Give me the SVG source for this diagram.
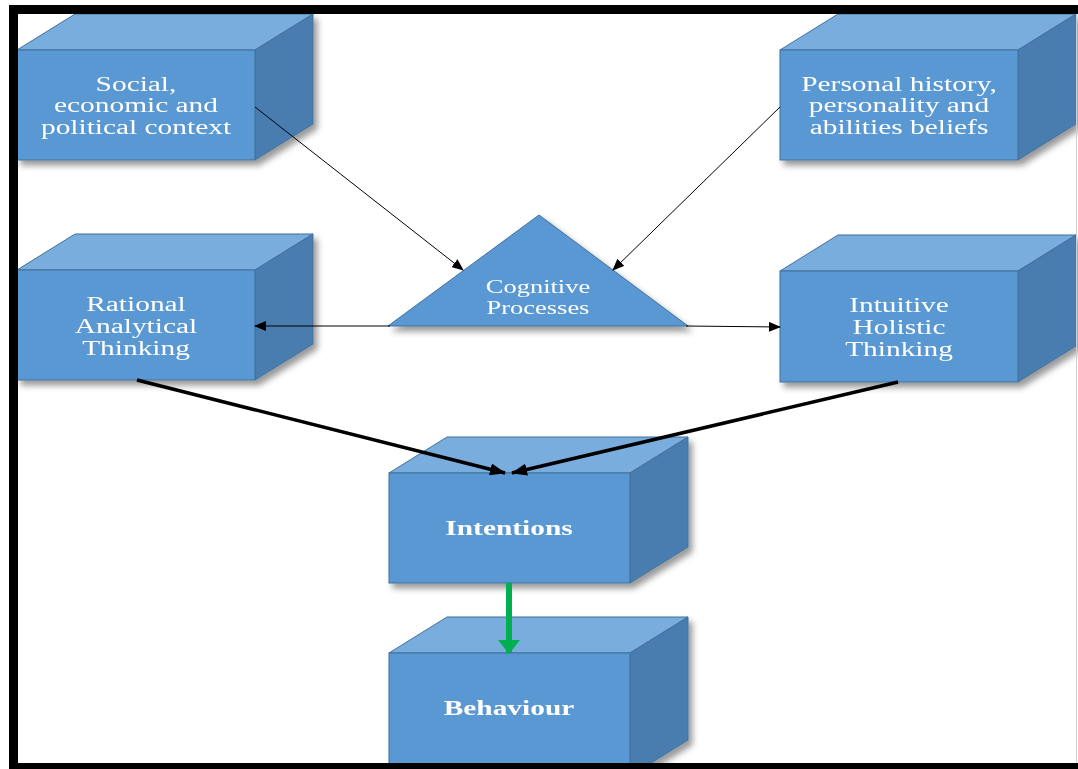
<svg xmlns="http://www.w3.org/2000/svg" width="1078" height="769" viewBox="0 0 1078 769">
  <style>
    .front { fill: #5a98d3; stroke: #41719c; stroke-width: 1; }
    .top { fill: #79addd; stroke: #41719c; stroke-width: 1; }
    .side { fill: #487db0; stroke: #41719c; stroke-width: 1; }
    .tri { fill: #5a98d3; stroke: #41719c; stroke-width: 1; }
    .lbl { font-family: "Liberation Serif", "Times New Roman", serif; font-size: 20px; fill: #ffffff; text-anchor: middle; }
    .lbl-sm { font-size: 18px; }
    .lbl-b { font-weight: bold; }
    .thin { stroke: #000; stroke-width: 1; fill: none; }
    .thick { stroke: #000; stroke-width: 3.5; fill: none; }
    .green { stroke: #00b050; stroke-width: 6; fill: none; }
  </style>
  <defs>
    <filter id="shadow" x="-10%" y="-10%" width="130%" height="140%">
      <feDropShadow dx="4" dy="5" stdDeviation="3" flood-color="#000" flood-opacity="0.4"/>
    </filter>
    <marker id="ah-thin" markerUnits="userSpaceOnUse" markerWidth="12" markerHeight="10" refX="11" refY="5" orient="auto">
      <path d="M0,0 L12,5 L0,10 Z" fill="#000"/>
    </marker>
    <marker id="ah-thick" markerUnits="userSpaceOnUse" markerWidth="16" markerHeight="12" refX="15" refY="6" orient="auto">
      <path d="M0,0 L16,6 L0,12 Z" fill="#000"/>
    </marker>
    <marker id="ah-green" markerUnits="userSpaceOnUse" markerWidth="14" markerHeight="22" refX="13" refY="11" orient="auto">
      <path d="M0,0 L14,11 L0,22 Z" fill="#00b050"/>
    </marker>
  </defs>

  <rect x="0" y="0" width="1078" height="769" fill="#ffffff"/>

  <!-- Social, economic and political context -->
  <g id="node-social" filter="url(#shadow)">
    <polygon class="top" points="17,50 75,14 313,14 255,50"/>
    <polygon class="side" points="255,50 313,14 313,124 255,160"/>
    <rect class="front" x="17" y="50" width="238" height="110"/>
    <g transform="translate(136,0) scale(1.47,1)">
      <text class="lbl" x="0" y="91">Social,</text>
      <text class="lbl" x="0" y="112">economic and</text>
      <text class="lbl" x="0" y="134">political context</text>
    </g>
  </g>

  <!-- Personal history, personality and abilities beliefs -->
  <g id="node-personal" filter="url(#shadow)">
    <polygon class="top" points="780,50 838,14 1076,14 1018,50"/>
    <polygon class="side" points="1018,50 1076,14 1076,124 1018,160"/>
    <rect class="front" x="780" y="50" width="238" height="110"/>
    <g transform="translate(899,0) scale(1.47,1)">
      <text class="lbl" x="0" y="91">Personal history,</text>
      <text class="lbl" x="0" y="112">personality and</text>
      <text class="lbl" x="0" y="134">abilities beliefs</text>
    </g>
  </g>

  <!-- Cognitive Processes -->
  <g id="node-cognitive" filter="url(#shadow)">
    <polygon class="tri" points="539,215 688,326 388,326"/>
    <g transform="translate(538,0) scale(1.47,1)">
      <text class="lbl lbl-sm" x="0" y="293">Cognitive</text>
      <text class="lbl lbl-sm" x="0" y="314">Processes</text>
    </g>
  </g>

  <!-- Rational Analytical Thinking -->
  <g id="node-rational" filter="url(#shadow)">
    <polygon class="top" points="17,270 75,234 313,234 255,270"/>
    <polygon class="side" points="255,270 313,234 313,344 255,380"/>
    <rect class="front" x="17" y="270" width="238" height="110"/>
    <g transform="translate(136,0) scale(1.47,1)">
      <text class="lbl" x="0" y="311">Rational</text>
      <text class="lbl" x="0" y="333">Analytical</text>
      <text class="lbl" x="0" y="355">Thinking</text>
    </g>
  </g>

  <!-- Intuitive Holistic Thinking -->
  <g id="node-intuitive" filter="url(#shadow)">
    <polygon class="top" points="780,271 838,235 1076,235 1018,271"/>
    <polygon class="side" points="1018,271 1076,235 1076,346 1018,382"/>
    <rect class="front" x="780" y="271" width="238" height="111"/>
    <g transform="translate(899,0) scale(1.47,1)">
      <text class="lbl" x="0" y="312">Intuitive</text>
      <text class="lbl" x="0" y="334">Holistic</text>
      <text class="lbl" x="0" y="356">Thinking</text>
    </g>
  </g>

  <!-- Intentions -->
  <g id="node-intentions" filter="url(#shadow)">
    <polygon class="top" points="389,473 447,437 688,437 630,473"/>
    <polygon class="side" points="630,473 688,437 688,547 630,583"/>
    <rect class="front" x="389" y="473" width="241" height="110"/>
    <g transform="translate(509,0) scale(1.47,1)">
      <text class="lbl lbl-b" x="0" y="535">Intentions</text>
    </g>
  </g>

  <!-- Behaviour -->
  <g id="node-behaviour" filter="url(#shadow)">
    <polygon class="top" points="389,653 447,617 688,617 630,653"/>
    <polygon class="side" points="630,653 688,617 688,740 630,776"/>
    <rect class="front" x="389" y="653" width="241" height="123"/>
    <g transform="translate(509,0) scale(1.47,1)">
      <text class="lbl lbl-b" x="0" y="715">Behaviour</text>
    </g>
  </g>

  <!-- Connectors -->
  <g id="connectors">
    <path class="thin" d="M255,107 L463,270" marker-end="url(#ah-thin)"/>
    <path class="thin" d="M780,107 L613,270" marker-end="url(#ah-thin)"/>
    <path class="thin" d="M390,326 L255,326" marker-end="url(#ah-thin)"/>
    <path class="thin" d="M686,326 L780,327" marker-end="url(#ah-thin)"/>
    <path class="thick" d="M137,380 L505,473" marker-end="url(#ah-thick)"/>
    <path class="thick" d="M898,382 L512,473" marker-end="url(#ah-thick)"/>
    <path class="green" d="M509,583 L509,653" marker-end="url(#ah-green)"/>
  </g>

  <!-- Frame -->
  <g id="frame">
    <rect x="9" y="5" width="1069" height="9" fill="#000"/>
    <rect x="9" y="5" width="9" height="764" fill="#000"/>
    <rect x="9" y="763" width="1069" height="6" fill="#000"/>
    <line x1="1076.5" y1="14" x2="1076.5" y2="763" stroke="#cfcfcf" stroke-width="1"/>
  </g>
</svg>
